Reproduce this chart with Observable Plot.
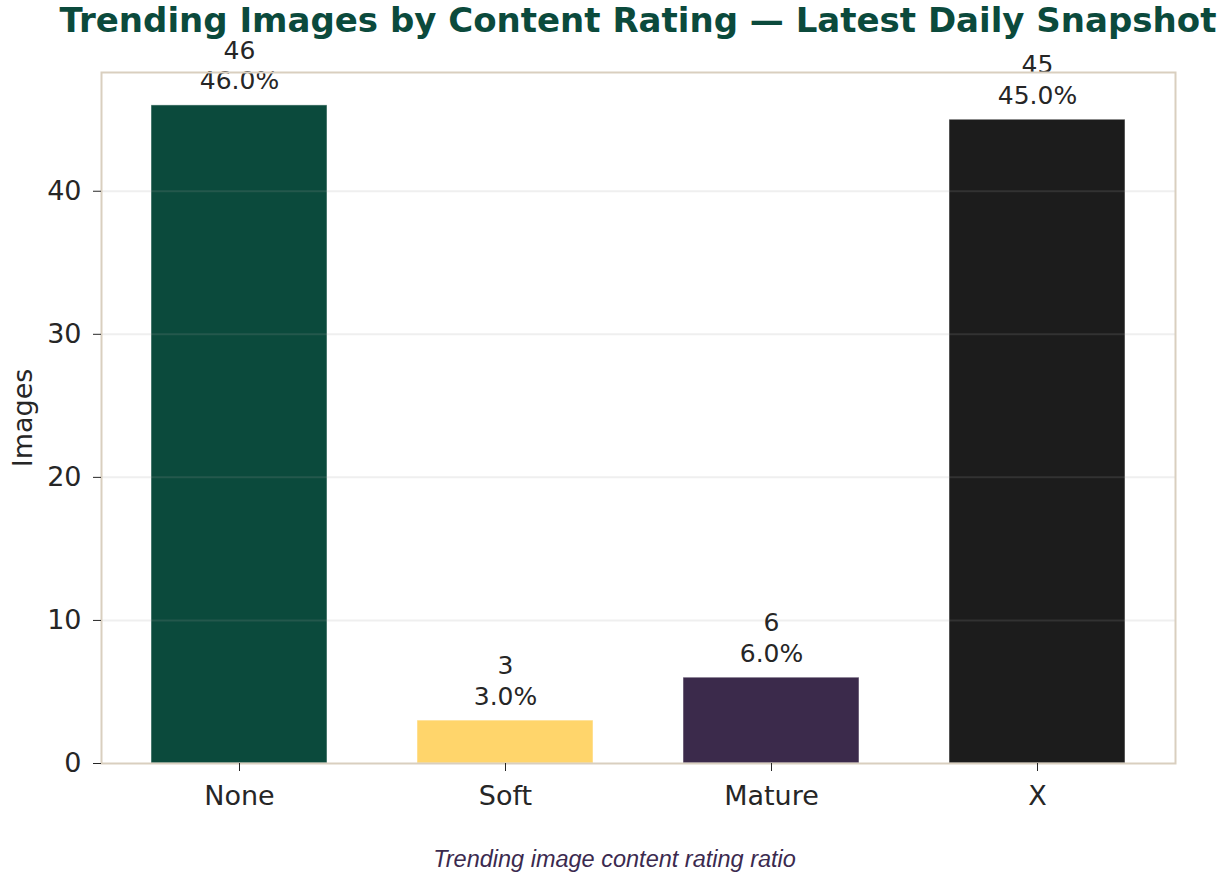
<!DOCTYPE html>
<html>
<head>
<meta charset="utf-8">
<script src="https://cdn.jsdelivr.net/npm/d3@7"></script>
<script src="https://cdn.jsdelivr.net/npm/@observablehq/plot@0.6"></script>
<style>
  html, body { margin: 0; padding: 0; background: #fff; }
  #wrap { width: 1229px; height: 875px; position: relative; overflow: hidden; }
  #title { height: 30px; line-height: 42px; font: 700 34px "DejaVu Sans", sans-serif; color: #0b4a3c;
           text-align: center; padding-left: 47px; white-space: nowrap; position: relative; z-index: 1; }
  #chart svg { display: block; }
  #caption { margin-top: 23px; line-height: 34px; font: italic 23.5px "Liberation Sans", Arial, sans-serif;
             color: #3b2a4f; text-align: center; }
</style>
</head>
<body>
<div id="wrap">
  <div id="title">Trending Images by Content Rating — Latest Daily Snapshot</div>
  <div id="chart"></div>
  <div id="caption">Trending image content rating ratio</div>
</div>
<script>
const categories = ["None", "Soft", "Mature", "X"];
const counts = [46, 3, 6, 45];
const colors = ["#0b4a3c", "#ffd56b", "#3b2a4b", "#1c1c1c"];
const yTicks = [0, 10, 20, 30, 40];
const gridTicks = [10, 20, 30, 40];

const total = d3.sum(counts);
const data = categories.map((c, i) => ({
  cat: c,
  value: counts[i],
  label: `${counts[i]}\n${(counts[i] / total * 100).toFixed(1)}%`
}));

const plot = Plot.plot({
  width: 1229,
  height: 793,
  marginLeft: 101,
  marginRight: 54,
  marginTop: 42,
  marginBottom: 60,
  style: { fontFamily: "DejaVu Sans, sans-serif", fontSize: "27px", color: "#262626", background: "transparent" },
  x: { type: "band", domain: categories, paddingInner: 0.34, paddingOuter: 0.186 },
  y: { domain: [0, 48.3] },
  color: { domain: categories, range: colors },
  marks: [
    Plot.barY(data, { x: "cat", y: "value", fill: "cat", stroke: "#ffffff", strokeOpacity: 0.5, strokeWidth: 1 }),
    Plot.ruleY(gridTicks, { stroke: "#a1a1a1", strokeOpacity: 0.17, strokeWidth: 2 }),
    Plot.text(data, { x: "cat", y: "value", text: "label", lineAnchor: "bottom", lineHeight: 1.22,
                      dy: -16, fontSize: 25, fill: "#262626" }),
    Plot.frame({ stroke: "#d9cfbf", strokeWidth: 2 }),
    Plot.axisY({ ticks: yTicks, tickSize: 8, tickPadding: 12, fontSize: 27, stroke: "#262626",
                 label: "Images", labelAnchor: "center", labelArrow: "none", labelOffset: 89 }),
    Plot.axisX({ tickSize: 8, tickPadding: 14, fontSize: 27, stroke: "#262626", label: null })
  ]
});
document.getElementById("chart").appendChild(plot);
</script>
</body>
</html>
